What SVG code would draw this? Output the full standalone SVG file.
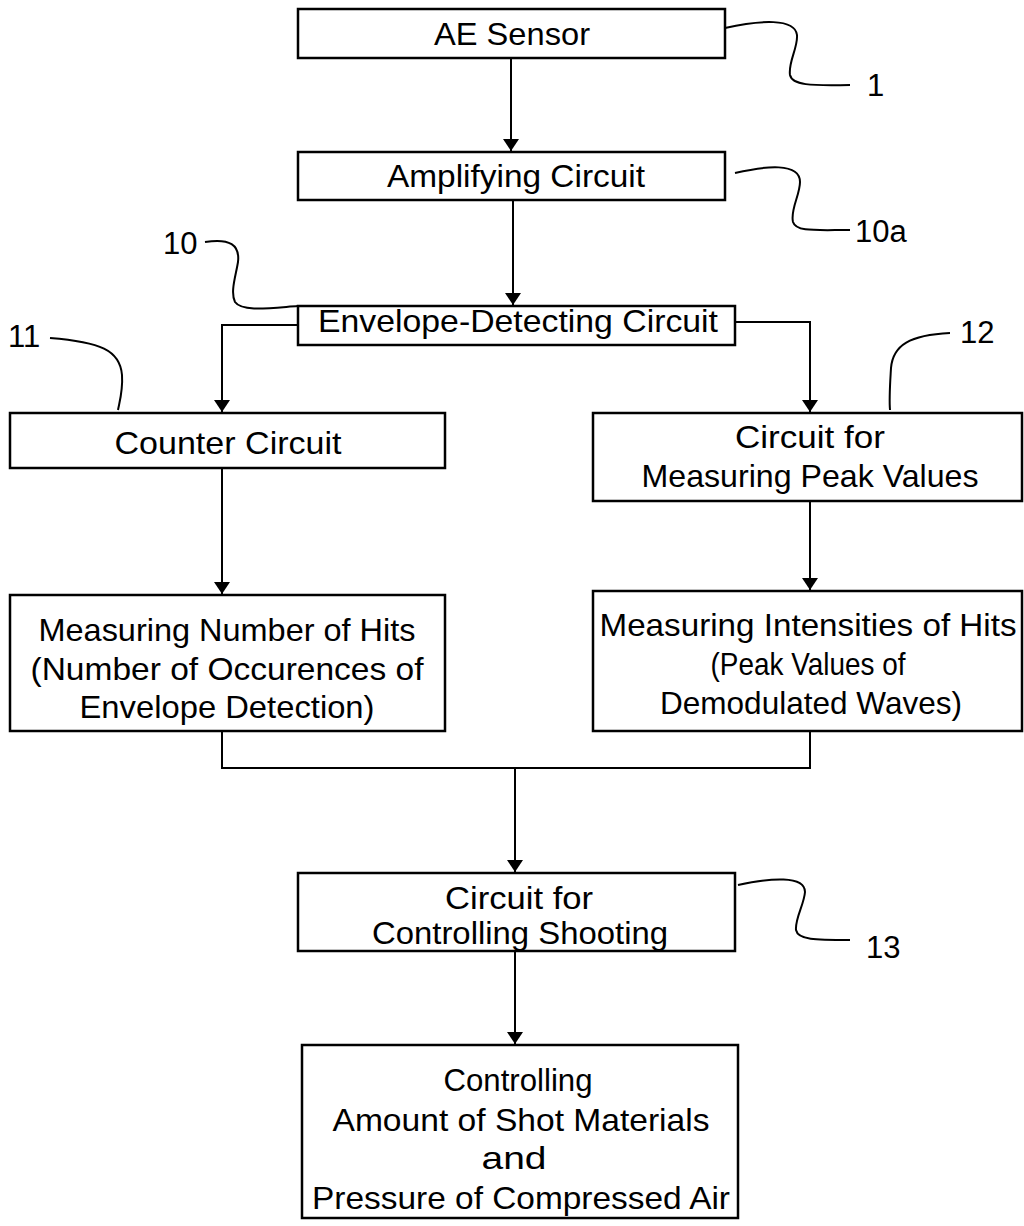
<svg xmlns="http://www.w3.org/2000/svg" width="1024" height="1226" viewBox="0 0 1024 1226">
<defs>
<style>
.box{fill:#fff;stroke:#000;stroke-width:2.5}
.t{font-family:"Liberation Sans",Arial,sans-serif;font-size:32px;fill:#000;text-anchor:middle}
.n{font-family:"Liberation Sans",Arial,sans-serif;font-size:31px;fill:#000}
.c{fill:none;stroke:#000;stroke-width:2}
.ld{fill:none;stroke:#000;stroke-width:2}
</style>
<marker id="ah" markerWidth="12" markerHeight="16" refX="12" refY="8" orient="auto" markerUnits="userSpaceOnUse">
<path d="M0,0 L12,8 L0,16 Z" fill="#000"/>
</marker>
</defs>
<rect width="1024" height="1226" fill="#fff"/>
<g id="connectors">
<path class="c" d="M511,58 V151" marker-end="url(#ah)"/>
<path class="c" d="M513,200 V305" marker-end="url(#ah)"/>
<path class="c" d="M298,325 H222 V412" marker-end="url(#ah)"/>
<path class="c" d="M735,322 H810 V412" marker-end="url(#ah)"/>
<path class="c" d="M222,468 V594" marker-end="url(#ah)"/>
<path class="c" d="M810,501 V590" marker-end="url(#ah)"/>
<path class="c" d="M222,731 V768 H810 V731"/>
<path class="c" d="M515,768 V872" marker-end="url(#ah)"/>
<path class="c" d="M515,951 V1044" marker-end="url(#ah)"/>
</g>
<g id="leaders">
<path class="ld" d="M725,28 C760,20 795,18 797,35 C798,48 788,62 790,75 C792,85 810,86 850,85"/>
<path class="ld" d="M735,173 C765,166 800,162 800,182 C800,195 790,210 793,222 C796,232 815,230 850,230"/>
<path class="ld" d="M205,242 C230,238 240,245 238,262 C236,275 230,292 235,302 C242,312 270,308 298,306"/>
<path class="ld" d="M50,338 C100,342 120,350 122,375 C123,390 120,400 118,410"/>
<path class="ld" d="M950,333 C910,335 893,345 891,368 C890,385 889,398 890,410"/>
<path class="ld" d="M738,885 C770,878 805,875 805,892 C804,905 795,918 796,930 C798,940 815,940 850,940"/>
</g>
<g id="labels">
<text class="n" x="867" y="96">1</text>
<text class="n" x="855" y="242">10a</text>
<text class="n" x="163" y="254">10</text>
<text class="n" x="8" y="347">11</text>
<text class="n" x="960" y="343">12</text>
<text class="n" x="866" y="958">13</text>
</g>
<g id="ae-sensor">
<rect class="box" x="298" y="9" width="427" height="49"/>
<text class="t" x="512" y="45" textLength="156" lengthAdjust="spacingAndGlyphs">AE Sensor</text>
</g>
<g id="amplifying">
<rect class="box" x="298" y="152" width="427" height="48"/>
<text class="t" x="516" y="187" textLength="258" lengthAdjust="spacingAndGlyphs">Amplifying Circuit</text>
</g>
<g id="envelope">
<rect class="box" x="298" y="306" width="437" height="39"/>
<text class="t" x="518" y="332" textLength="400" lengthAdjust="spacingAndGlyphs">Envelope-Detecting Circuit</text>
</g>
<g id="counter">
<rect class="box" x="10" y="413" width="435" height="55"/>
<text class="t" x="228" y="454" textLength="227" lengthAdjust="spacingAndGlyphs">Counter Circuit</text>
</g>
<g id="peak">
<rect class="box" x="593" y="413" width="429" height="88"/>
<text class="t" x="810" y="448" textLength="150" lengthAdjust="spacingAndGlyphs">Circuit for</text>
<text class="t" x="810" y="487" textLength="337" lengthAdjust="spacingAndGlyphs">Measuring Peak Values</text>
</g>
<g id="hits-number">
<rect class="box" x="10" y="595" width="435" height="136"/>
<text class="t" x="227" y="641" textLength="377" lengthAdjust="spacingAndGlyphs">Measuring Number of Hits</text>
<text class="t" x="227" y="680" textLength="393" lengthAdjust="spacingAndGlyphs">(Number of Occurences of</text>
<text class="t" x="227" y="718" textLength="295" lengthAdjust="spacingAndGlyphs">Envelope Detection)</text>
</g>
<g id="hits-intensity">
<rect class="box" x="593" y="591" width="429" height="140"/>
<text class="t" x="808" y="636" textLength="417" lengthAdjust="spacingAndGlyphs">Measuring Intensities of Hits</text>
<text class="t" x="808" y="675" textLength="195" lengthAdjust="spacingAndGlyphs">(Peak Values of</text>
<text class="t" x="811" y="714" textLength="302" lengthAdjust="spacingAndGlyphs">Demodulated Waves)</text>
</g>
<g id="shooting">
<rect class="box" x="298" y="873" width="437" height="78"/>
<text class="t" x="519" y="909" textLength="148" lengthAdjust="spacingAndGlyphs">Circuit for</text>
<text class="t" x="520" y="944" textLength="296" lengthAdjust="spacingAndGlyphs">Controlling Shooting</text>
</g>
<g id="controlling">
<rect class="box" x="302" y="1045" width="436" height="173"/>
<text class="t" x="518" y="1091" textLength="149" lengthAdjust="spacingAndGlyphs">Controlling</text>
<text class="t" x="521" y="1131" textLength="377" lengthAdjust="spacingAndGlyphs">Amount of Shot Materials</text>
<text class="t" x="514" y="1169" textLength="65" lengthAdjust="spacingAndGlyphs">and</text>
<text class="t" x="521" y="1209" textLength="418" lengthAdjust="spacingAndGlyphs">Pressure of Compressed Air</text>
</g>
</svg>
